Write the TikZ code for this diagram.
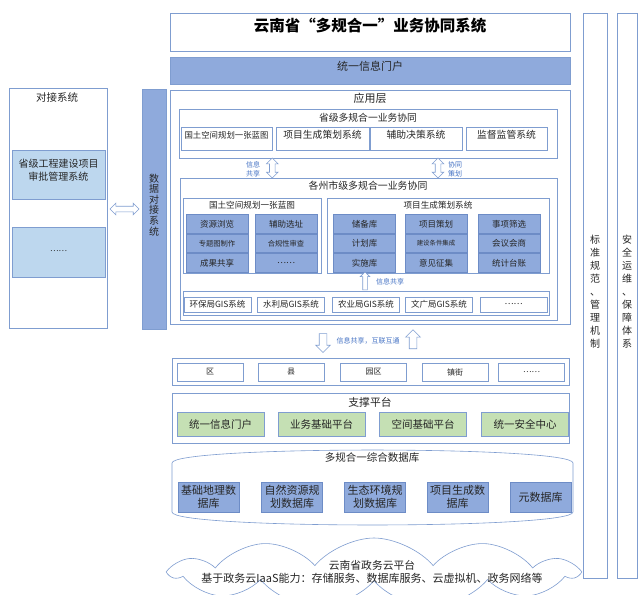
\documentclass[tikz,border=0pt]{standalone}
\usepackage{fontspec}
\setmainfont{Noto Sans CJK SC}
\usetikzlibrary{positioning, fit, shapes.arrows, shapes.symbols}

\definecolor{barblue}{HTML}{8FAADC}
\definecolor{lineblue}{HTML}{7F9DD0}
\definecolor{cellline}{HTML}{6D8CC6}
\definecolor{paleblue}{HTML}{BDD7EE}
\definecolor{palegreen}{HTML}{C5E0B4}
\definecolor{txtblue}{HTML}{4472C4}
\definecolor{txt}{HTML}{262626}

\begin{document}
\begin{tikzpicture}[x=1pt, y=-1pt,
  every node/.style={text=txt},
  fs/.style 2 args={font=\fontsize{#1}{#2}\selectfont},
  box/.style={draw=lineblue, line width=0.6pt, fill=white, inner sep=0pt},
  bcell/.style={draw=cellline, line width=0.6pt, fill=barblue, inner sep=0pt},
  gcell/.style={draw=lineblue, line width=0.6pt, fill=palegreen, inner sep=0pt},
  wcell/.style={box, minimum height=15pt},
  hollow/.style={draw=lineblue, line width=0.6pt, fill=white},
  vdbl/.style={hollow, double arrow, shape border rotate=90, inner sep=2.5pt,
    double arrow head extend=3pt, minimum height=20pt},
  hdbl/.style={hollow, double arrow, inner sep=2.5pt,
    double arrow head extend=3pt, minimum height=29pt},
  uparr/.style={hollow, single arrow, shape border rotate=90, inner sep=2pt,
    single arrow head extend=2.5pt, minimum height=18pt},
  bigarr/.style={hollow, single arrow, inner sep=3.5pt,
    single arrow head extend=3.5pt, minimum height=19pt},
  note/.style={fs={7}{9}, text=txtblue, align=center}]

\fill[white] (0,0) rectangle (639,594);
\useasboundingbox (0,0) rectangle (639,594);

% Title and portal
\node[box, fit={(170,13) (570,51)}, font=\fontsize{15.5}{18}\selectfont\bfseries, text=black] (title) {云南省“多规合一”业务协同系统};
\node[box, fill=barblue, fit={(170,57) (570,84)}, fs={11}{13}] (portal) {统一信息门户};

% Application layer
\node[box, fit={(170,90) (570,324)}] (app) {};
\node[fs={11}{13}] (apptitle) at (370,98) {应用层};

% Provincial level
\node[box, fit={(179,109) (557,158)}] (prov) {};
\node[fs={9.8}{12}] (provtitle) at (368,117.5) {省级多规合一业务协同};
\foreach \a/\b/\t/\s/\n in {181/272/国土空间规划一张蓝图/8.4/s1, 276/369/项目生成策划系统/9.8/s2,
    370/462/辅助决策系统/9.8/s3, 466/547/监督监管系统/9.8/s4}
  \node[box, fit={(\a,127) (\b,150)}, fs={\s}{12}] (\n) {\t};

% City level
\node[box, fit={(180,178) (557,320)}] (city) {};
\node[fs={9.9}{12}] (citytitle) at (368,186) {各州市级多规合一业务协同};

\path (prov.south -| s1.east) -- (city.north -| s1.east) node[midway, vdbl] (share) {};
\path (prov.south -| 438,0) -- (city.north -| 438,0) node[midway, vdbl] (coop) {};
\node[note] at (253,169.5) {信息\\共享};
\node[note] at (455,169.5) {协同\\策划};

\node[box, fit={(183,198) (321,273)}] (map) {};
\node[fs={8.6}{10}] (maptitle) at (252,205.5) {国土空间规划一张蓝图};
\foreach \x/\y/\t/\s/\n in {217/224/资源浏览/8.5/m1, 286/224/辅助选址/8.5/m2,
    217/243.5/专题图制作/7.3/m3, 286/243.5/合规性审查/7.3/m4,
    217/263/成果共享/8.5/m5, 286/263/……/8.5/m6}
  \node[bcell, minimum width=62pt, minimum height=18.5pt, fs={\s}{10}] (\n) at (\x,\y) {\t};

\node[box, fit={(327,198) (549,273)}] (plan) {};
\node[fs={8.6}{10}] (plantitle) at (438,205.5) {项目生成策划系统};
\foreach \x/\y/\t/\s/\n in {364.5/224/储备库/8.5/p1, 436/224/项目策划/8.5/p2, 509/224/事项筛选/8.5/p3,
    364.5/243.5/计划库/8.5/p4, 436/243.5/建设条件集成/6.4/p5, 509/243.5/会议会商/8.5/p6,
    364.5/263/实施库/8.5/p7, 436/263/意见征集/8.5/p8, 509/263/统计台账/8.5/p9}
  \node[bcell, minimum width=62pt, minimum height=18.5pt, fs={\s}{10}] (\n) at (\x,\y) {\t};

% Bureau GIS systems
\node[box, fit={(183,291) (549,315)}] (gis) {};
\foreach \x/\t/\n in {217.5/环保局GIS系统/g1, 291/水利局GIS系统/g2, 366/农业局GIS系统/g3,
    439/文广局GIS系统/g4, 513.5/……/g5}
  \node[wcell, minimum width=67pt, fs={8.5}{10}] (\n) at (\x,304.5) {\t};
\path (gis.north -| 365,0) -- (plan.south -| 365,0) node[midway, uparr] (gisup) {};
\node[note] at (390,281.5) {信息共享};

% Exchange with districts
\path (app.south -| 323,0) -- (323,358) node[midway, bigarr, shape border rotate=270] (down) {};
\path (app.south -| 413,0) -- (413,358) node[midway, bigarr, shape border rotate=90] (up) {};
\node[note] at (368,341) {信息共享，互联互通};

\node[box, fit={(172,358) (569,385)}] (region) {};
\foreach \x/\t/\n in {210/区/r1, 291/县/r2, 373.5/园区/r3, 455/镇街/r4, 531.5/……/r5}
  \node[wcell, minimum width=66pt, minimum height=18pt, fs={8}{10}] (\n) at (\x,372) {\t};

% Support platform
\node[box, fit={(172,393) (569,443)}] (support) {};
\node[fs={10.8}{13}] (supporttitle) at (370,402) {支撑平台};
\foreach \x/\t/\n in {220.5/统一信息门户/u1, 321.5/业务基础平台/u2, 423/空间基础平台/u3, 525/统一安全中心/u4}
  \node[gcell, minimum width=87pt, minimum height=24pt, fs={10.5}{12}] (\n) at (\x,424) {\t};

% Database
\draw[hollow] (172,463) -- (172,512) .. controls (172,529.3) and (573,529.3) .. (573,512)
  -- (573,463) .. controls (573,445.7) and (172,445.7) .. cycle;
\node[fs={10.5}{12}] (dbtitle) at (372,458) {多规合一综合数据库};
\foreach \x/\t/\n in {208.5/基础地理数\\据库/d1, 292/自然资源规\\划数据库/d2, 375/生态环境规\\划数据库/d3,
    457.5/项目生成数\\据库/d4, 540.5/元数据库/d5}
  \node[bcell, minimum width=61pt, minimum height=30pt, align=center, fs={11}{13}] (\n) at (\x,497) {\t};

% Cloud
\node[hollow, cloud, cloud puffs=11, cloud puff arc=100, aspect=6, minimum width=405pt, minimum height=70pt] (cloud) at (374,573) {};
\node[fs={10.8}{13}] (cloudtitle) at (372,565) {云南省政务云平台};
\node[fs={11}{13}] (cloudtext) at (372,578) {基于政务云IaaS能力：存储服务、数据库服务、云虚拟机、政务网络等};

% Docking systems
\node[box, fit={(9,88) (107,328)}] (dock) {};
\node[fs={10.5}{12}] (docktitle) at (57,97) {对接系统};
\node[box, fill=paleblue, fit={(12,150) (105,199)}, align=center, fs={10}{13}] (approve) {省级工程建设项目\\审批管理系统};
\node[box, fill=paleblue, fit={(12,227) (105,277)}, fs={8}{10}] (other) {……};
\node[box, fill=barblue, fit={(142,89) (166,329)}, align=center, fs={10}{10.6}] (dxbar) {数\\据\\对\\接\\系\\统};
\path (dock.east |- 0,209) -- (dxbar.west |- 0,209) node[midway, hdbl] (link) {};

% Side columns
\node[box, fit={(583,13) (607,578)}, align=center, fs={10}{13}] (std) {标\\准\\规\\范\\、\\管\\理\\机\\制};
\node[box, fit={(617,13) (637,578)}, align=center, fs={10}{13}] (safe) {安\\全\\运\\维\\、\\保\\障\\体\\系};
\end{tikzpicture}
\end{document}
